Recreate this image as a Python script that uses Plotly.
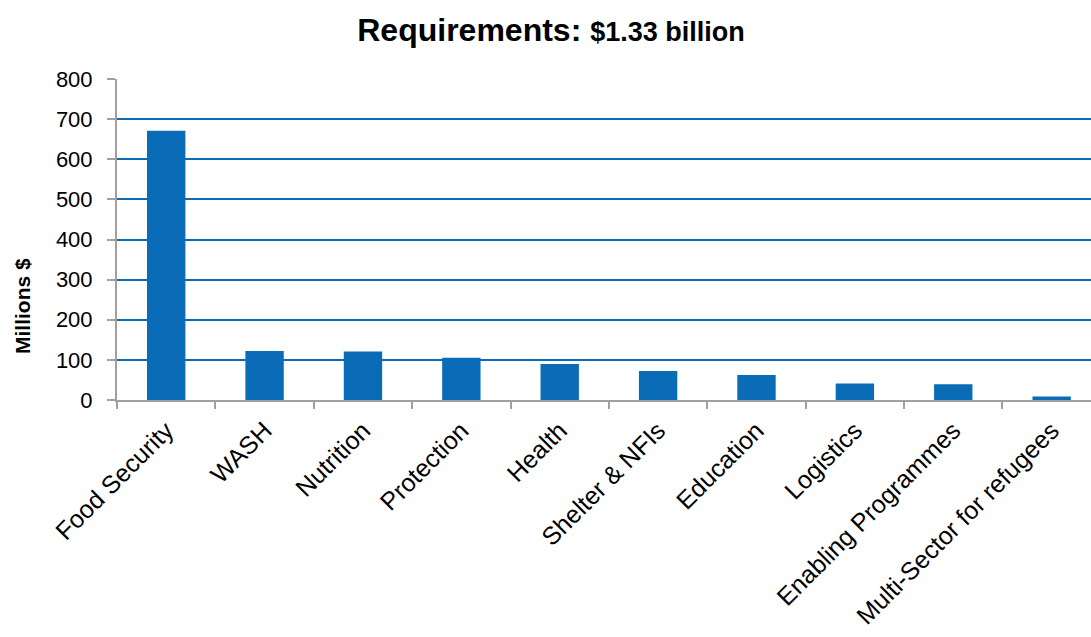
import plotly.graph_objects as go

categories = ["Food Security", "WASH", "Nutrition", "Protection", "Health",
              "Shelter & NFIs", "Education", "Logistics", "Enabling Programmes",
              "Multi-Sector for refugees"]
values = [671, 122, 121, 105, 90, 72, 62, 41, 39, 9]
y_ticks = [0, 100, 200, 300, 400, 500, 600, 700, 800]

fig = go.Figure()
fig.add_trace(go.Bar(x=categories, y=values, marker=dict(color="#0A6BB6", line=dict(width=0)),
                     width=0.39))

fig.update_layout(
    width=1091, height=637,
    margin=dict(l=117, r=0, t=79, b=237),
    paper_bgcolor="white", plot_bgcolor="white",
    font=dict(family="Liberation Sans, Arial, sans-serif", color="black"),
    showlegend=False,
    title=dict(
        text="<b>Requirements: <span style='font-size:27px'>$1.33 billion</span></b>",
        x=551 / 1091, xanchor="center", y=1 - 30 / 637, yanchor="middle",
        font=dict(size=32, color="black"),
    ),
    xaxis=dict(
        type="category", range=[-0.5, 9.4], automargin=False,
        showline=True, linecolor="#A0A0A0", linewidth=2,
        ticks="outside", tickson="boundaries", ticklen=7, tickcolor="#A0A0A0", tickwidth=1.5,
        tickangle=-45, tickfont=dict(size=25), showgrid=False, ticklabelstandoff=4,
    ),
    yaxis=dict(
        range=[0, 800], tickvals=y_ticks, showgrid=True, gridcolor="#0A6BB6", gridwidth=1.5,
        zeroline=False, showline=True, linecolor="#A0A0A0", linewidth=2, automargin=False,
        ticks="outside", ticklen=8, tickcolor="#A0A0A0", tickwidth=1.5,
        tickfont=dict(size=22), ticklabelstandoff=10,
    ),
    annotations=[dict(
        text="<b>Millions $</b>", textangle=-90, showarrow=False,
        xref="paper", yref="paper", x=-95 / 974, y=(400 - 306) / 321,
        xanchor="center", yanchor="middle", font=dict(size=21, color="black"),
    )],
)

fig.write_html("out.html")
